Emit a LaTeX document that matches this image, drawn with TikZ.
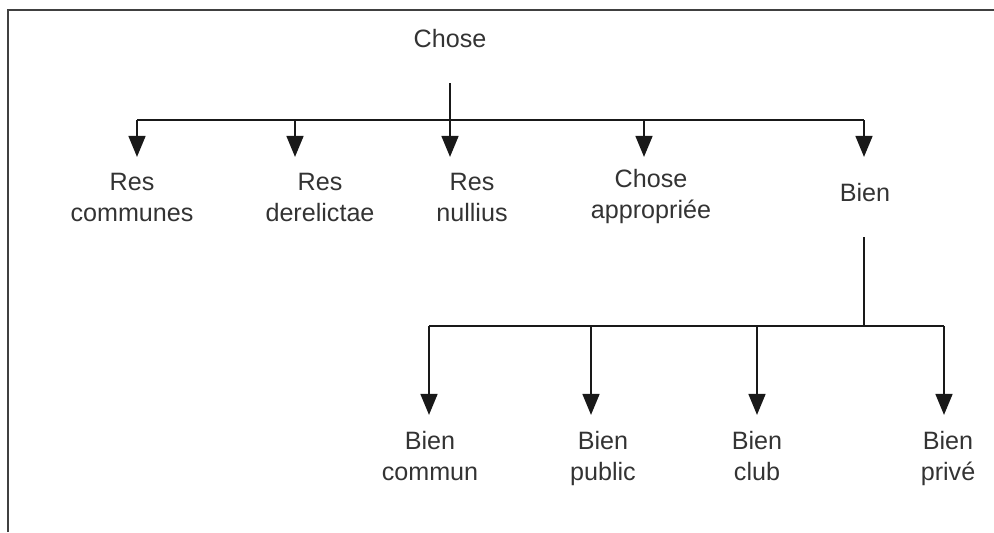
\documentclass[tikz,border=0pt]{standalone}
\usepackage{fontspec}
\setmainfont{Liberation Sans}
\usetikzlibrary{arrows.meta}

\begin{document}
\begin{tikzpicture}[x=0.02cm,y=-0.02cm,
  lbl/.style={align=center,anchor=north,inner sep=0pt,text=black!80,font=\fontsize{14.3}{17.6}\selectfont},
  line/.style={line width=1.5pt,black!90},
  arrow/.style={line,-{Triangle[length=12pt,width=9.5pt]}}]
 		\useasboundingbox (0,0) rectangle (994,532);
 		\draw [line width=1.1pt,black!75] (8,532) -- (8,10) -- (994,10);
 		% top level
 		\node[lbl] (chose) at (450,29) {Chose};
 		\coordinate (choseStem) at (450,83);
 		\coordinate (barAl) at (137,120);
 		\coordinate (barAr) at (864,120);
 		\draw [line] (choseStem) -- (450,120);
 		\draw [line] (barAl) -- (barAr);
 		\foreach \x/\n in {137/a1,295/a2,450/a3,644/a4,864/a5} {
 			\coordinate (top\n) at (\x,120);
 			\coordinate (tip\n) at (\x,157);
 			\draw [arrow] (top\n) -- (tip\n);
 		}
 		\node[lbl] (rescom) at (132,173) {Res\\communes};
 		\node[lbl] (resder) at (320,173) {Res\\derelictae};
 		\node[lbl] (resnul) at (472,173) {Res\\nullius};
 		\node[lbl] (choapp) at (651,169) {Chose\\appropriée};
 		\node[lbl] (bien) at (865,183) {Bien};
 		% second level
 		\coordinate (bienStem) at (864,237);
 		\coordinate (barBl) at (429,326);
 		\coordinate (barBr) at (944,326);
 		\draw [line] (bienStem) -- (864,326);
 		\draw [line] (barBl) -- (barBr);
 		\foreach \x/\n in {429/b1,591/b2,757/b3,944/b4} {
 			\coordinate (top\n) at (\x,326);
 			\coordinate (tip\n) at (\x,415);
 			\draw [arrow] (top\n) -- (tip\n);
 		}
 		\node[lbl] (biencom) at (430,431) {Bien\\commun};
 		\node[lbl] (bienpub) at (603,431) {Bien\\public};
 		\node[lbl] (bienclub) at (757,431) {Bien\\club};
 		\node[lbl] (bienpriv) at (948,431) {Bien\\privé};
 		\end{tikzpicture}
\end{document}
